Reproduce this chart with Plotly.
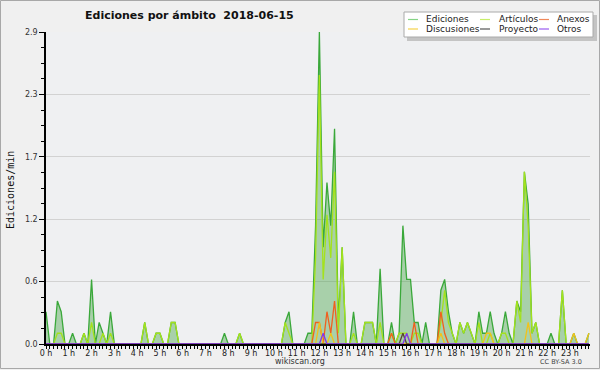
import plotly.graph_objects as go

# ---------------- data (10-minute bins, edits per minute) ----------------
minutes = list(range(0, 1440, 10))
hour_ticks = list(range(24))
hour_labels = [f"{h} h" for h in hour_ticks]
y_ticks = [0, 0.58, 1.16, 1.74, 2.32, 2.9]
y_labels = ["0.0", "0.6", "1.2", "1.7", "2.3", "2.9"]

ediciones = [
    0.3, 0, 0, 0.4, 0.3, 0, 0, 0.1, 0, 0, 0.1, 0,
    0.6, 0, 0.2, 0.1, 0, 0.3, 0, 0, 0, 0, 0, 0,
    0, 0, 0.2, 0, 0, 0.1, 0.1, 0, 0, 0.2, 0.2, 0,
    0, 0, 0, 0, 0, 0, 0, 0, 0, 0, 0, 0.1,
    0, 0, 0, 0.1, 0, 0, 0, 0, 0, 0, 0, 0,
    0, 0, 0, 0.2, 0.3, 0, 0, 0, 0, 0.1, 0.1, 1.1,
    2.9, 0.9, 1.5, 1.1, 2.0, 0.2, 0.9, 0, 0, 0.3, 0, 0,
    0.2, 0.2, 0.2, 0, 0.7, 0, 0, 0.2, 0, 0.1, 1.1, 0.6,
    0.6, 0.2, 0.2, 0, 0.2, 0, 0, 0, 0.5, 0.6, 0.3, 0.1,
    0, 0.2, 0.1, 0.2, 0.1, 0, 0.3, 0.1, 0.1, 0.3, 0.1, 0,
    0.1, 0.3, 0.1, 0, 0.4, 0.3, 1.6, 1.3, 0.1, 0.2, 0, 0,
    0, 0.1, 0, 0, 0.5, 0, 0, 0.1, 0, 0, 0, 0.1,
]
articulos = [
    0, 0, 0, 0.1, 0.1, 0, 0, 0, 0, 0, 0.1, 0,
    0.2, 0, 0, 0.1, 0, 0.1, 0, 0, 0, 0, 0, 0,
    0, 0, 0.2, 0, 0, 0.1, 0.1, 0, 0, 0.2, 0.2, 0,
    0, 0, 0, 0, 0, 0, 0, 0, 0, 0, 0, 0,
    0, 0, 0, 0.1, 0, 0, 0, 0, 0, 0, 0, 0,
    0, 0, 0, 0.2, 0.1, 0, 0, 0, 0, 0, 0, 0.8,
    2.5, 0.6, 1.2, 0.8, 1.6, 0.1, 0.9, 0, 0, 0.1, 0, 0,
    0.2, 0.2, 0.2, 0, 0.2, 0, 0, 0.1, 0, 0.1, 0.1, 0.1,
    0, 0.1, 0.1, 0, 0, 0, 0, 0, 0.2, 0.5, 0.2, 0.1,
    0, 0.2, 0.1, 0.2, 0.1, 0, 0.2, 0, 0, 0.1, 0, 0,
    0.1, 0.1, 0, 0, 0.4, 0.2, 1.6, 1.1, 0.1, 0.2, 0, 0,
    0, 0, 0, 0, 0.5, 0, 0, 0, 0, 0, 0, 0,
]
anexos = [0] * 144
for i, v in [(71, 0.2), (72, 0.2), (74, 0.3), (75, 0.1), (76, 0.4),
             (91, 0.1), (97, 0.2), (104, 0.3), (105, 0.1)]:
    anexos[i] = v
discusiones = [0] * 144
for i, v in [(72, 0.2), (75, 0.1), (104, 0.1), (116, 0.1), (117, 0.1),
             (127, 0.2), (139, 0.1), (143, 0.1)]:
    discusiones[i] = v
proyecto = [0] * 144
for i, v in [(94, 0.1)]:
    proyecto[i] = v
otros = [0] * 144
for i, v in [(73, 0.1), (95, 0.1)]:
    otros[i] = v

legend_names = ["Ediciones", "Artículos", "Anexos", "Discusiones", "Proyecto", "Otros"]
legend_colors = ["#86d486", "#c8ee6a", "#f0895a", "#f5d24a", "#555555", "#9a5cf0"]

# ---------------- figure ----------------
x_hours = [m / 60 for m in minutes]

L, R, T, B = 46, 10, 32, 26
W, H = 600, 370
PW, PH = W - L - R, H - T - B


def px(xp):
    return (xp - L) / PW


def py(yp):
    return (H - B - yp) / PH


fig = go.Figure()
fig.add_trace(go.Scatter(x=x_hours, y=ediciones, mode="lines", name="Ediciones",
                         fill="tozeroy", fillcolor="rgba(62,160,62,0.40)",
                         line=dict(color="#3aa83a", width=1.3)))
series = [
    ("Artículos", articulos, "#a4e21c"),
    ("Anexos", anexos, "#f0601e"),
    ("Discusiones", discusiones, "#f2c21a"),
    ("Proyecto", proyecto, "#5a4630"),
    ("Otros", otros, "#8236ee"),
]
for name, vals, col in series:
    fig.add_trace(go.Scatter(x=x_hours, y=vals, mode="lines", name=name,
                             line=dict(color=col, width=1.3)))

shapes = []
annotations = []

# outer frame
shapes.append(dict(type="rect", xref="paper", yref="paper",
                   x0=px(0.5), x1=px(599.5), y0=py(368.5), y1=py(0.5),
                   line=dict(color="#a8a8a8", width=1), fillcolor="rgba(0,0,0,0)",
                   layer="below"))

# legend box with shadow
shapes.append(dict(type="rect", xref="paper", yref="paper",
                   x0=px(407), x1=px(597), y0=py(41), y1=py(15),
                   line=dict(width=0), fillcolor="#c4c4c4"))
shapes.append(dict(type="rect", xref="paper", yref="paper",
                   x0=px(404), x1=px(593), y0=py(37), y1=py(12),
                   line=dict(color="#aaaaaa", width=1), fillcolor="#ffffff"))
col_line_x = [408, 480, 539]
col_text_x = [424, 497, 555]
row_y = [19.5, 29]
for k, (nm, col) in enumerate(zip(legend_names, legend_colors)):
    c, r = k % 3, k // 3
    shapes.append(dict(type="line", xref="paper", yref="paper",
                       x0=px(col_line_x[c]), x1=px(col_line_x[c] + 10),
                       y0=py(row_y[r]), y1=py(row_y[r]),
                       line=dict(color=col, width=1.2)))
    annotations.append(dict(text=nm, xref="paper", yref="paper",
                            x=px(col_text_x[c]), y=py(row_y[r]),
                            xanchor="left", yanchor="middle", showarrow=False,
                            font=dict(family="DejaVu Sans", size=9, color="#222222")))

# footer texts
annotations.append(dict(text="wikiscan.org", xref="paper", yref="paper",
                        x=px(300), y=py(361.5), xanchor="center", yanchor="middle",
                        showarrow=False,
                        font=dict(family="DejaVu Sans", size=8, color="#333333")))
annotations.append(dict(text="CC BY-SA 3.0", xref="paper", yref="paper",
                        x=px(561), y=py(362), xanchor="center", yanchor="middle",
                        showarrow=False,
                        font=dict(family="DejaVu Sans", size=6.5, color="#444444")))
# y axis title
annotations.append(dict(text="Ediciones/min", xref="paper", yref="paper",
                        x=px(10), y=py(190), xanchor="center", yanchor="middle",
                        textangle=-90, showarrow=False,
                        font=dict(family="DejaVu Sans Mono", size=10, color="#111111")))

fig.update_layout(
    width=W, height=H,
    margin=dict(l=L, r=R, t=T, b=B),
    paper_bgcolor="#f0f0f0",
    plot_bgcolor="#eff0f2",
    showlegend=False,
    title=dict(text="Ediciones por ámbito \u00a02018-06-15", xref="container", yref="container",
               x=85 / W, y=1 - 15 / H, xanchor="left", yanchor="middle",
               font=dict(family="DejaVu Sans", size=11, color="#111111", weight="bold")),
    xaxis=dict(range=[0, 23.88], tickvals=hour_ticks, ticktext=hour_labels,
               ticks="outside", ticklen=3, tickcolor="#000", tickwidth=1,
               showline=True, linecolor="#000", linewidth=1.5,
               showgrid=False, zeroline=False,
               tickfont=dict(family="DejaVu Sans", size=8, color="#222"),
               minor=dict(dtick=1 / 6, tick0=0, ticks="outside", ticklen=3,
                          tickcolor="#000", showgrid=False)),
    yaxis=dict(range=[0, 2.9], tickvals=y_ticks, ticktext=y_labels,
               ticks="outside", ticklen=5, tickcolor="#000",
               showline=True, linecolor="#000", linewidth=1.5,
               showgrid=True, gridcolor="#d2d2d2", gridwidth=1, zeroline=False,
               tickfont=dict(family="DejaVu Sans", size=8, color="#333"),
               minor=dict(dtick=0.145, tick0=0, ticks="outside", ticklen=3,
                          tickcolor="#000", showgrid=False)),
    shapes=shapes,
    annotations=annotations,
)
try:
    fig.update_xaxes(ticklabelstandoff=-2)
except Exception:
    pass

fig.write_html("out.html", config={"displayModeBar": False},
               post_script="document.body.style.margin='0px';")
